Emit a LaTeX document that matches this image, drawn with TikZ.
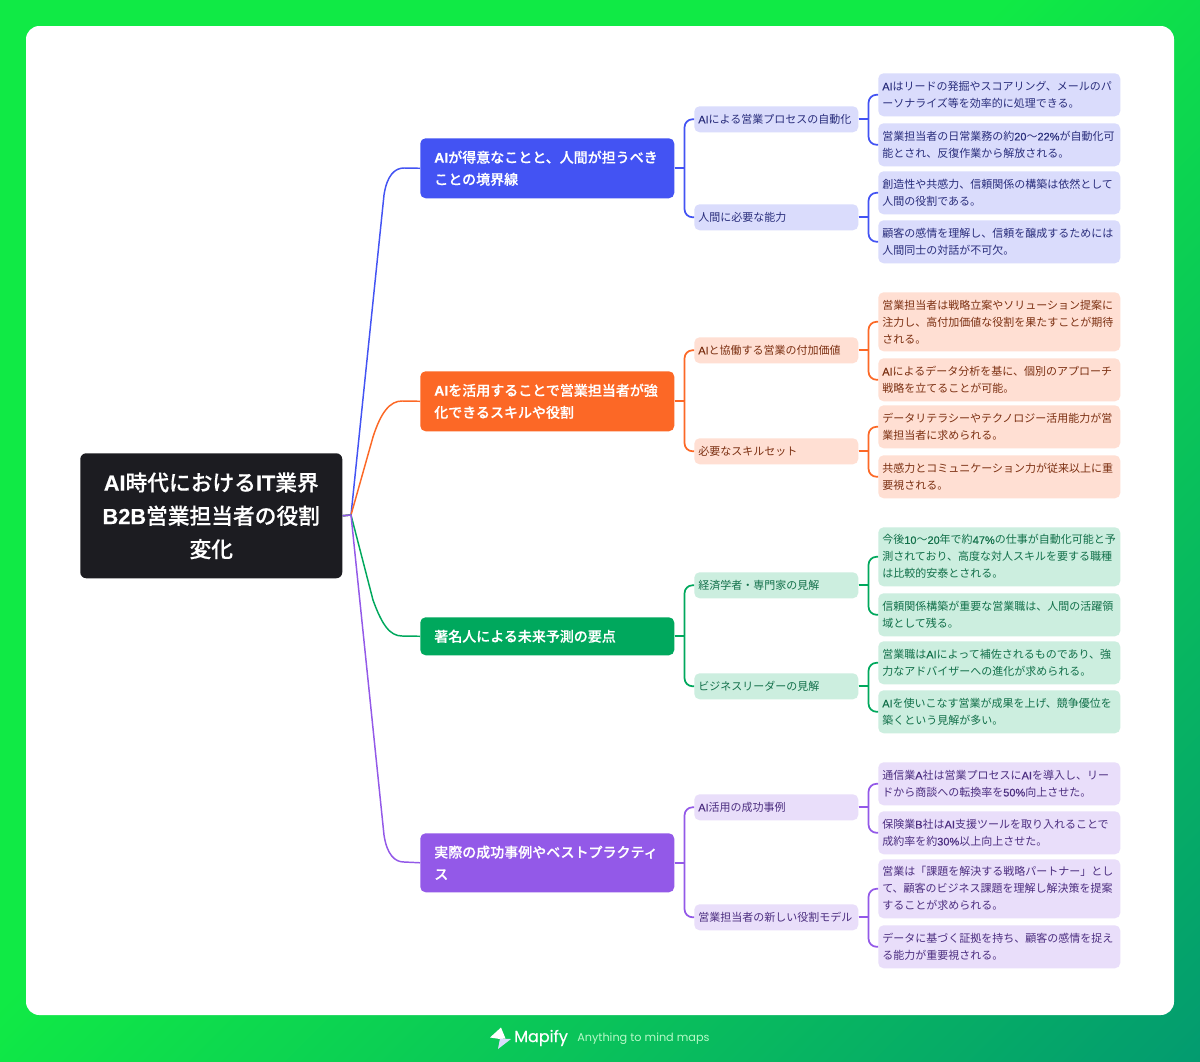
\documentclass[tikz,border=0pt]{standalone}
\usepackage{fontspec}
\usetikzlibrary{calc}
\setmainfont{Noto Sans CJK JP}
\newfontfamily\medfont[FakeBold=0.3]{Noto Sans CJK JP Medium}
\newfontfamily\lat[FakeBold=0.15]{Liberation Sans}
\newfontfamily\latm[FakeBold=0.5]{Liberation Sans}
\newfontfamily\logofont[FakeBold=0.5]{Poppins}
\newfontfamily\tagfont{Poppins}
\newcommand{\la}[1]{{\lat #1}}
\newcommand{\lm}[1]{{\latm #1}}
\newcommand{\lb}[1]{{\latm\bfseries #1}}
\definecolor{bgA}{HTML}{10EA45}
\definecolor{bgB}{HTML}{039A70}
\definecolor{rootc}{HTML}{1C1C21}
\definecolor{blueM}{HTML}{4353F3}\definecolor{blueL}{HTML}{DADCFC}\definecolor{blueT}{HTML}{2A2E7C}
\definecolor{oranM}{HTML}{FC6826}\definecolor{oranL}{HTML}{FFDFD3}\definecolor{oranT}{HTML}{7C3012}
\definecolor{greeM}{HTML}{00A85D}\definecolor{greeL}{HTML}{CCEEDF}\definecolor{greeT}{HTML}{12704A}
\definecolor{purpM}{HTML}{9359E8}\definecolor{purpL}{HTML}{E9DEFA}\definecolor{purpT}{HTML}{4C2E80}
\pgfdeclarehorizontalshading{bgshade}{100bp}{color(0bp)=(bgA); color(46bp)=(bgA); color(86bp)=(bgB); color(100bp)=(bgB)}
\def\px{0.75pt}
\tikzset{
  x=0.75pt,y=-0.75pt,
  rootbox/.style={anchor=north west,fill=rootc,rounded corners=4.5pt,minimum width=262*\px,minimum height=125*\px,text width=240*\px,align=center,inner sep=0pt,text=white,font=\fontsize{16.3}{25}\selectfont\medfont},
  topbox/.style={anchor=north west,rounded corners=4pt,minimum width=254*\px,text width=226*\px,align=left,inner sep=0pt,text=white,font=\fontsize{10.5}{16.5}\selectfont\medfont},
  midbox/.style={anchor=north west,rounded corners=4pt,minimum width=164*\px,minimum height=26*\px,text width=156*\px,align=left,inner sep=0pt,font=\fontsize{8.25}{12.75}\selectfont},
  leafbox/.style={anchor=north west,rounded corners=4pt,minimum width=242*\px,text width=234*\px,align=left,inner sep=0pt,font=\fontsize{8.25}{12.75}\selectfont},
  stub/.style={line width=1.3pt},
  link/.style={line width=1.3pt,rounded corners=6pt},
  trunk/.style={line width=1.1pt},
}
\newcommand{\branch}[2]{\draw[stub] (#1.east) -- ($(#1.east)+(10,0)$);\draw[link] ($(#1.east)+(10,0)$) |- (#2.west);}
\begin{document}
\begin{tikzpicture}
\useasboundingbox (0,0) rectangle (1200,1061);
\shade[shading=bgshade,shading angle=-45] (0,0) rectangle (1200,1061);
\fill[white,rounded corners=10pt] (26,26) rectangle (1174,1015);

\coordinate (hub) at (351,515);
\node[rootbox] (root) at (80,453) {\lb{AI}時代における\lb{IT}業界\\\lb{B2B}営業担当者の役割\\変化};

% level one
\node[topbox,fill=blueM,minimum height=60*\px] (a) at (420,138) {\lb{AI}が得意なことと、人間が担うべき\\ことの境界線};
\node[topbox,fill=oranM,minimum height=60*\px] (b) at (420,371) {\lb{AI}を活用することで営業担当者が強\\化できるスキルや役割};
\node[topbox,fill=greeM,minimum height=38*\px] (c) at (420,617) {著名人による未来予測の要点};
\node[topbox,fill=purpM,minimum height=59*\px] (d) at (420,833) {実際の成功事例やベストプラクティ\\ス};

% root connectors
\draw[trunk,blueM] (root.east) -- (hub) -- (384,195) .. controls (387,175) and (395,168) .. (404,168) -- (a.west);
\draw[trunk,oranM] (root.east) -- (hub) -- (373,437) .. controls (381,412) and (390,401) .. (402,401) -- (b.west);
\draw[trunk,greeM] (root.east) -- (hub) -- (373,600) .. controls (382,625) and (390,636) .. (402,636) -- (c.west);
\draw[trunk,purpM] (root.east) -- (hub) -- (384,835) .. controls (387,855) and (395,862) .. (404,862) -- (d.west);

% blue
\begin{scope}[every node/.append style={fill=blueL,text=blueT},blueM]
\node[midbox] (a1) at (694,106) {\la{AI}による営業プロセスの自動化};
\node[midbox] (a2) at (694,204) {人間に必要な能力};
\node[leafbox,minimum height=43*\px] (a11) at (878,73) {\la{AI}はリードの発掘やスコアリング、メールのパ\\ーソナライズ等を効率的に処理できる。};
\node[leafbox,minimum height=43*\px] (a12) at (878,123) {営業担当者の日常業務の約\la{20}〜\la{22\%}が自動化可\\能とされ、反復作業から解放される。};
\node[leafbox,minimum height=43*\px] (a21) at (878,171) {創造性や共感力、信頼関係の構築は依然として\\人間の役割である。};
\node[leafbox,minimum height=43*\px] (a22) at (878,220) {顧客の感情を理解し、信頼を醸成するためには\\人間同士の対話が不可欠。};
\branch{a}{a1}\branch{a}{a2}\branch{a1}{a11}\branch{a1}{a12}\branch{a2}{a21}\branch{a2}{a22}
\end{scope}

% orange
\begin{scope}[every node/.append style={fill=oranL,text=oranT},oranM]
\node[midbox] (b1) at (694,337) {\la{AI}と協働する営業の付加価値};
\node[midbox] (b2) at (694,438) {必要なスキルセット};
\node[leafbox,minimum height=59*\px] (b11) at (878,292) {営業担当者は戦略立案やソリューション提案に\\注力し、高付加価値な役割を果たすことが期待\\される。};
\node[leafbox,minimum height=43*\px] (b12) at (878,358) {\la{AI}によるデータ分析を基に、個別のアプローチ\\戦略を立てることが可能。};
\node[leafbox,minimum height=43*\px] (b21) at (878,405) {データリテラシーやテクノロジー活用能力が営\\業担当者に求められる。};
\node[leafbox,minimum height=43*\px] (b22) at (878,455) {共感力とコミュニケーション力が従来以上に重\\要視される。};
\branch{b}{b1}\branch{b}{b2}\branch{b1}{b11}\branch{b1}{b12}\branch{b2}{b21}\branch{b2}{b22}
\end{scope}

% green
\begin{scope}[every node/.append style={fill=greeL,text=greeT},greeM]
\node[midbox] (c1) at (694,572) {経済学者・専門家の見解};
\node[midbox] (c2) at (694,673) {ビジネスリーダーの見解};
\node[leafbox,minimum height=59*\px] (c11) at (878,527) {今後\la{10}〜\la{20}年で約\lm{47\%}の仕事が自動化可能と予\\測されており、高度な対人スキルを要する職種\\は比較的安泰とされる。};
\node[leafbox,minimum height=43*\px] (c12) at (878,593) {信頼関係構築が重要な営業職は、人間の活躍領\\域として残る。};
\node[leafbox,minimum height=43*\px] (c21) at (878,641) {営業職は\la{AI}によって補佐されるものであり、強\\力なアドバイザーへの進化が求められる。};
\node[leafbox,minimum height=43*\px] (c22) at (878,690) {\la{AI}を使いこなす営業が成果を上げ、競争優位を\\築くという見解が多い。};
\branch{c}{c1}\branch{c}{c2}\branch{c1}{c11}\branch{c1}{c12}\branch{c2}{c21}\branch{c2}{c22}
\end{scope}

% purple
\begin{scope}[every node/.append style={fill=purpL,text=purpT},purpM]
\node[midbox] (d1) at (694,794) {\la{AI}活用の成功事例};
\node[midbox] (d2) at (694,904) {営業担当者の新しい役割モデル};
\node[leafbox,minimum height=43*\px] (d11) at (878,762) {通信業\la{A}社は営業プロセスに\la{AI}を導入し、リー\\ドから商談への転換率を\lm{50\%}向上させた。};
\node[leafbox,minimum height=43*\px] (d12) at (878,811) {保険業\la{B}社は\la{AI}支援ツールを取り入れることで\\成約率を約\lm{30\%}以上向上させた。};
\node[leafbox,minimum height=59*\px] (d21) at (878,859) {営業は「課題を解決する戦略パートナー」とし\\て、顧客のビジネス課題を理解し解決策を提案\\することが求められる。};
\node[leafbox,minimum height=43*\px] (d22) at (878,925) {データに基づく証拠を持ち、顧客の感情を捉え\\る能力が重要視される。};
\branch{d}{d1}\branch{d}{d2}\branch{d1}{d11}\branch{d1}{d12}\branch{d2}{d21}\branch{d2}{d22}
\end{scope}

% footer
\fill[white] (501,1027.5) -- (490,1037.5) -- (500,1039) -- (505.5,1038.5) -- cycle;
\fill[blueL] (500,1038.5) -- (511,1039) -- (498,1049) -- cycle;
\node[anchor=west,inner sep=0pt,text=white,font=\logofont\fontsize{12}{15}\selectfont] (brand) at (514,1038) {Mapify};
\node[anchor=west,inner sep=0pt,text=white!70!bgA,font=\tagfont\fontsize{8.45}{11}\selectfont] (tag) at (577,1039) {Anything to mind maps};
\end{tikzpicture}
\end{document}
